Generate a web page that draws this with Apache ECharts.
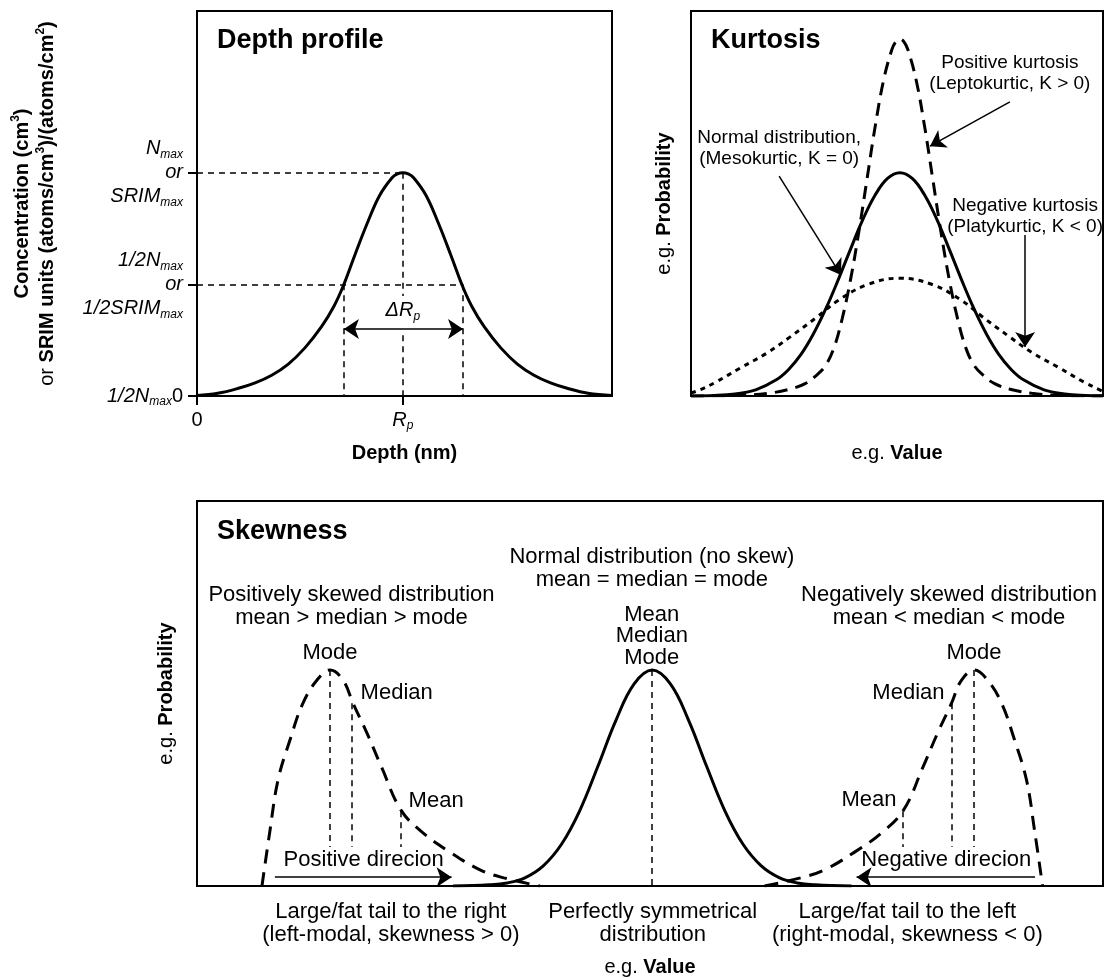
<!DOCTYPE html>
<html>
<head>
<meta charset="utf-8">
<script src="https://cdn.jsdelivr.net/npm/echarts@6/dist/echarts.min.js"></script>
<style>
  html, body { margin: 0; padding: 0; background: #fff; }
  #chart { width: 1105px; height: 978px; }
</style>
</head>
<body>
<div id="chart"></div>
<script>
const FONT = "'Liberation Sans', Arial, Helvetica, sans-serif";

// ---------- Depth profile (x: depth 0-100, y: concentration 0-100) ----------
const depthCurve = [[0,0.1],[5,0.7],[10,2.0],[14,3.4],[18,5.4],[22,8.3],[26,12.5],[30,18.0],[33,23.3],[35.4,29],
  [38,36.5],[41,44.8],[44,52.1],[47,56.7],[48.3,57.7],[49.6,58],[50.9,57.7],[52.2,56.7],[55.2,52.1],[58.2,44.8],
  [61.2,36.5],[63.8,29],[66.2,23.3],[69.2,18.0],[73.2,12.5],[77.2,8.3],[81.2,5.4],[85.2,3.4],[89.2,2.0],
  [94.2,0.7],[100,0.1]];
const depthTicksY = [0, 29, 58];     // 1/2Nmax "0", 1/2Nmax, Nmax
const depthTicksX = [0, 49.6];       // 0, Rp
const depthRp = 49.6, depthNmax = 58, depthHalf = 29, depthHalfL = 35.4, depthHalfR = 64.1;

// ---------- Kurtosis (x: value 0-100, y: probability 0-100) ----------
const kurtNormal = [[0,0.03],[5.7,0.15],[10.7,0.55],[15.7,1.6],[20.7,4.2],[23.7,6.9],[26.7,10.8],[29.7,16.1],
  [32.7,22.6],[35.7,30.1],[38.7,38.1],[41.7,45.8],[44.7,52.2],[47.7,56.5],[50.7,58],[53.7,56.5],[56.7,52.2],
  [59.7,45.8],[62.7,38.1],[65.7,30.1],[68.7,22.6],[71.7,16.1],[74.7,10.8],[77.7,6.9],[80.7,4.2],[85.7,1.6],
  [90.7,0.55],[95.7,0.15],[100,0.04]];
const kurtLepto = [[0,0],[12.7,0.2],[18.7,0.7],[23.7,1.7],[27.7,3.2],[30.7,5.6],[32.7,8.0],[34.7,12.5],[36.7,20.1],
  [38.7,30.1],[40.7,42.4],[42.7,56.2],[44.7,70.0],[46.7,81.8],[48.7,89.8],[49.7,92.0],[50.7,92.7],[51.7,92.0],
  [52.7,89.8],[54.7,81.8],[56.7,70.0],[58.7,56.2],[60.7,42.4],[62.7,30.1],[64.7,20.1],[66.7,12.5],[68.7,8.0],
  [70.7,5.6],[73.7,3.2],[77.7,1.7],[82.7,0.7],[88.7,0.2],[100,0]];
const kurtPlaty = [[0,0.8],[2.2,1.6],[6,3.6],[12,7.3],[18.5,11.2],[24,15.3],[30.7,20.6],[35.7,24.8],[42.7,28.9],
  [50.7,30.6],[58.7,28.9],[65.7,24.8],[70.7,20.6],[77.4,15.3],[82.9,11.2],[89.4,7.3],[95.4,3.6],[99.2,1.6],[100,1.2]];

// ---------- Skewness (x: value 0-100, y: probability 0-100) ----------
const skewPositive = [[7.17,0],[8.06,14.5],[8.94,27.5],[10.26,37.9],[11.7,47.5],[13.25,53.5],[14.68,56.1],
  [16.11,53.5],[17.22,47.5],[18.76,39.7],[20.42,30.6],[22.52,19.7],[24.94,13.8],[27.92,8.8],[31.24,4.2],
  [33.88,2.1],[37.86,0]];
const skewNormal = [[28.25,0],[32.25,0.3],[34.25,0.8],[36.25,2.2],[38.25,5.3],[40.25,10.9],[42.25,19.6],
  [44.25,31.1],[46.25,43.1],[48.25,52.5],[50.25,56.1],[52.25,52.5],[54.25,43.1],[56.25,31.1],[58.25,19.6],
  [60.25,10.9],[62.25,5.3],[64.25,2.2],[66.25,0.8],[68.25,0.3],[72.25,0]];
const skewNegative = [[62.64,0],[66.62,2.1],[69.26,4.2],[72.58,8.8],[75.56,13.8],[77.98,19.7],[80.08,30.6],
  [81.74,39.7],[83.28,47.5],[84.39,53.5],[85.82,56.1],[87.25,53.5],[88.8,47.5],[90.24,37.9],[91.56,27.5],
  [92.44,14.5],[93.33,0]];
// [x, curve height] of mode / median / mean
const posMarks = [[14.68,56.1],[17.11,47.5],[22.52,19.4]];
const negMarks = [[85.76,56.1],[83.33,47.5],[77.92,19.4]];
const normMark = [50.22,56.1];
const skewTickX = [21.4, 50.3, 78.4];
const skewTickText = ['Large/fat tail to the right\n(left-modal, skewness > 0)',
  'Perfectly symmetrical\ndistribution',
  'Large/fat tail to the left\n(right-modal, skewness < 0)'];

const chart = echarts.init(document.getElementById('chart'));

const richItalic = {
  i: { fontFamily: FONT, fontSize: 20, fontStyle: 'italic', lineHeight: 24, color: '#000' },
  s: { fontFamily: FONT, fontSize: 12, fontStyle: 'italic', lineHeight: 14, verticalAlign: 'bottom', color: '#000' },
  n: { fontFamily: FONT, fontSize: 20, lineHeight: 24, color: '#000' }
};
const richName = {
  n: { fontFamily: FONT, fontSize: 20, lineHeight: 25, color: '#000' },
  b: { fontFamily: FONT, fontSize: 20, fontWeight: 'bold', lineHeight: 25, color: '#000' },
  u: { fontFamily: FONT, fontSize: 12, fontWeight: 'bold', lineHeight: 12, verticalAlign: 'top', color: '#000' }
};

function seg(a, b) { return { coords: [a, b] }; }
const guideStyle = { color: '#000', width: 1.5, type: [6, 5], opacity: 1 };

function guides(ix, data) {
  return { type: 'lines', coordinateSystem: 'cartesian2d', xAxisIndex: ix, yAxisIndex: ix, silent: true,
    symbol: 'none', lineStyle: guideStyle, data: data, z: 3 };
}
function arrows(ix, data, sym) {
  return { type: 'lines', coordinateSystem: 'cartesian2d', xAxisIndex: ix, yAxisIndex: ix, silent: true,
    symbol: sym, symbolSize: 15, lineStyle: { color: '#000', width: 1.5, type: 'solid', opacity: 1 },
    itemStyle: { color: '#000', opacity: 1 }, data: data, z: 4 };
}
function curve(ix, data, type, width) {
  return { type: 'line', xAxisIndex: ix, yAxisIndex: ix, data: data, smooth: 0.4, showSymbol: false,
    silent: true, lineStyle: { color: '#000', width: width, type: type }, z: 5 };
}
function texts(ix, items, size, lh) {
  return { type: 'scatter', xAxisIndex: ix, yAxisIndex: ix, symbolSize: 1, silent: true, clip: false,
    itemStyle: { color: 'transparent', opacity: 1 },
    label: { show: true, color: '#000', opacity: 1, fontFamily: FONT, fontSize: size, lineHeight: lh, distance: 0,
      position: 'inside', align: 'center', rich: richItalic },
    data: items.map(t => ({ value: t[0], label: Object.assign({ formatter: t[1] }, t[2] || {}) })), z: 6 };
}

const plainAxis = {
  type: 'value', min: 0, max: 100,
  axisLine: { show: false }, splitLine: { show: false },
  axisTick: { show: false }, axisLabel: { show: false }
};
const titleStyle = { fontFamily: FONT, fontSize: 27, fontWeight: 'bold', lineHeight: 30, color: '#000' };

const option = {
  backgroundColor: '#fff',
  animation: false,
  title: [
    { text: 'Depth profile', left: 217, top: 26, padding: 0, textStyle: titleStyle },
    { text: 'Kurtosis', left: 711, top: 26, padding: 0, textStyle: titleStyle },
    { text: 'Skewness', left: 217, top: 517, padding: 0, textStyle: titleStyle }
  ],
  grid: [
    { left: 197, top: 11, width: 415, height: 385, show: true, borderColor: '#000', borderWidth: 2, outerBoundsMode: 'none' },
    { left: 691, top: 11, width: 412, height: 385, show: true, borderColor: '#000', borderWidth: 2, outerBoundsMode: 'none' },
    { left: 197, top: 501, width: 906, height: 385, show: true, borderColor: '#000', borderWidth: 2, outerBoundsMode: 'none' }
  ],
  xAxis: [
    Object.assign({}, plainAxis, {
      gridIndex: 0,
      axisTick: { show: true, customValues: depthTicksX, length: 9, lineStyle: { color: '#000', width: 2 } },
      axisLabel: { show: true, customValues: depthTicksX, margin: 12, rich: richItalic,
        formatter: v => v === 0 ? '{n|0}' : '{i|R}{s|p}' },
      name: 'Depth (nm)', nameLocation: 'middle', nameGap: 45,
      nameTextStyle: { fontFamily: FONT, fontSize: 20, fontWeight: 'bold', lineHeight: 24, color: '#000' }
    }),
    Object.assign({}, plainAxis, {
      gridIndex: 1,
      name: '{n|e.g. }{b|Value}', nameLocation: 'middle', nameGap: 45,
      nameTextStyle: { rich: richName }
    }),
    Object.assign({}, plainAxis, {
      gridIndex: 2,
      axisLabel: { show: true, customValues: skewTickX, margin: 14, fontFamily: FONT, fontSize: 22,
        lineHeight: 23, color: '#000', formatter: v => skewTickText[skewTickX.indexOf(v)] || '' },
      name: '{n|e.g. }{b|Value}', nameLocation: 'middle', nameGap: 69,
      nameTextStyle: { rich: richName }
    })
  ],
  yAxis: [
    Object.assign({}, plainAxis, {
      gridIndex: 0,
      axisTick: { show: true, customValues: depthTicksY, length: 9, lineStyle: { color: '#000', width: 2 } },
      axisLabel: { show: true, customValues: depthTicksY, margin: 14, rich: richItalic, align: 'right',
        formatter: v => v === depthNmax ? '{i|N}{s|max}\n{i|or}\n{i|SRIM}{s|max}'
          : v === depthHalf ? '{i|1/2N}{s|max}\n{i|or}\n{i|1/2SRIM}{s|max}'
          : '{i|1/2N}{s|max}{n|0}' },
      name: '{b|Concentration (cm}{u|3}{b|)}\n{n|or }{b|SRIM units (atoms/cm}{u|3}{b|)/(atoms/cm}{u|2}{b|)}',
      nameLocation: 'middle', nameGap: 137,
      nameTextStyle: { rich: richName, align: 'center' }
    }),
    Object.assign({}, plainAxis, {
      gridIndex: 1,
      name: '{n|e.g. }{b|Probability}', nameLocation: 'middle', nameGap: 14,
      nameTextStyle: { rich: richName }
    }),
    Object.assign({}, plainAxis, {
      gridIndex: 2,
      name: '{n|e.g. }{b|Probability}', nameLocation: 'middle', nameGap: 18,
      nameTextStyle: { rich: richName }
    })
  ],
  series: [
    // depth profile
    guides(0, [
      seg([0, depthNmax], [depthRp, depthNmax]),
      seg([depthRp, depthNmax], [depthRp, 26]),
      seg([depthRp, 15.8], [depthRp, 0]),
      seg([0, depthHalf], [depthHalfR, depthHalf]),
      seg([depthHalfL, depthHalf], [depthHalfL, 0]),
      seg([depthHalfR, depthHalf], [depthHalfR, 0])
    ]),
    arrows(0, [seg([depthHalfL, 17.4], [depthHalfR, 17.4])], ['arrow', 'arrow']),
    curve(0, depthCurve, 'solid', 3),
    texts(0, [[[depthRp, 22.1], '{i|ΔR}{s|p}']], 20, 24),

    // kurtosis
    curve(1, kurtPlaty, [5, 5], 3),
    curve(1, kurtLepto, [13, 8], 3),
    curve(1, kurtNormal, 'solid', 3),
    arrows(1, [
      seg([77.4, 76.4], [58.0, 64.9]),
      seg([21.4, 57.1], [36.4, 31.4]),
      seg([81.1, 41.8], [81.1, 12.7])
    ], ['none', 'arrow']),
    texts(1, [
      [[77.4, 83.8], 'Positive kurtosis\n(Leptokurtic, K > 0)'],
      [[21.4, 64.4], 'Normal distribution,\n(Mesokurtic, K = 0)'],
      [[81.1, 46.6], 'Negative kurtosis\n(Platykurtic, K < 0)']
    ], 19, 21),

    // skewness
    guides(2, [
      seg(posMarks[0], [posMarks[0][0], 10.1]),
      seg(posMarks[1], [posMarks[1][0], 10.1]),
      seg(posMarks[2], [posMarks[2][0], 10.1]),
      seg(negMarks[0], [negMarks[0][0], 10.1]),
      seg(negMarks[1], [negMarks[1][0], 10.1]),
      seg(negMarks[2], [negMarks[2][0], 10.1]),
      seg(normMark, [normMark[0], 0])
    ]),
    arrows(2, [seg([8.6, 2.3], [28.1, 2.3]), seg([92.5, 2.3], [72.8, 2.3])], ['none', 'arrow']),
    curve(2, skewPositive, [14, 9], 3),
    curve(2, skewNegative, [14, 9], 3),
    curve(2, skewNormal, 'solid', 3),
    texts(2, [
      [[50.2, 82.5], 'Normal distribution (no skew)\nmean = median = mode'],
      [[17.05, 72.6], 'Positively skewed distribution\nmean > median > mode'],
      [[83.0, 72.6], 'Negatively skewed distribution\nmean < median < mode'],
      [[50.2, 64.9], 'Mean\nMedian\nMode', { lineHeight: 21.5 }],
      [[14.68, 60.5], 'Mode'],
      [[85.76, 60.5], 'Mode'],
      [[18.0, 50.1], 'Median', { position: 'right', align: 'left' }],
      [[82.56, 50.1], 'Median', { position: 'left', align: 'right' }],
      [[23.3, 22.1], 'Mean', { position: 'right', align: 'left' }],
      [[77.26, 22.3], 'Mean', { position: 'left', align: 'right' }],
      [[18.4, 6.75], 'Positive direcion'],
      [[82.7, 6.75], 'Negative direcion']
    ], 22, 23)
  ]
};

chart.setOption(option);
</script>
</body>
</html>
